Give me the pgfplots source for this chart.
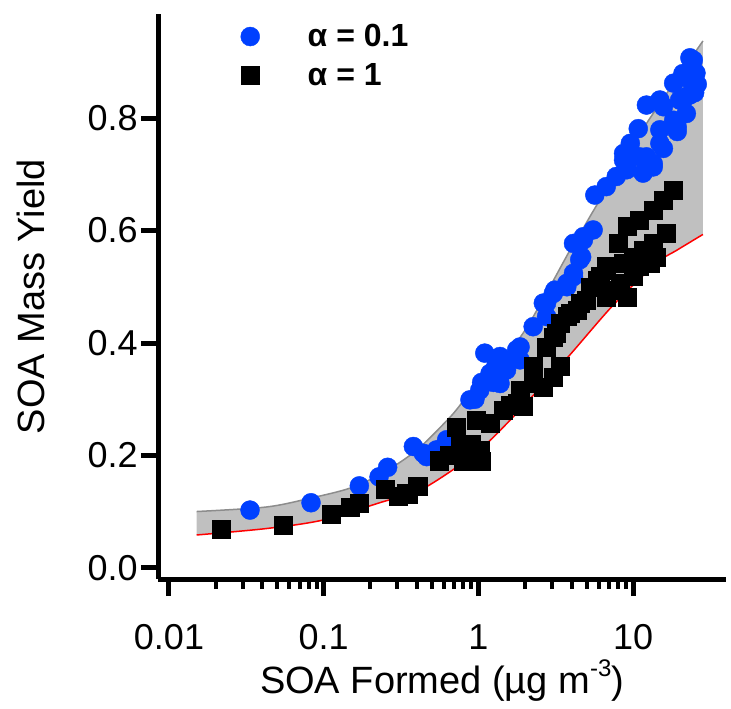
\documentclass[border=0pt]{standalone}
\usepackage{fontspec}
\setmainfont{Liberation Sans}
\usepackage{pgfplots}
\pgfplotsset{compat=1.18}
\usepgfplotslibrary{fillbetween}
\definecolor{ptblue}{HTML}{0040FF}
\definecolor{band}{HTML}{C0C0C0}
\definecolor{bandedge}{HTML}{8C8C8C}
\newcommand{\tickfont}{\fontsize{36}{40}\selectfont}
\newcommand{\labfont}{\fontsize{38}{42}\selectfont}
\newcommand{\legfont}{\bfseries\fontsize{32}{34}\selectfont}
\pgfplotsset{dotleg/.style={legend image code/.code={\draw[##1] plot coordinates {(0pt,0pt)};}}}

\begin{document}
\begin{tikzpicture}
\begin{axis}[name=ax, set layers, scale only axis,
  width=568.2pt, height=565.3pt,
  xmode=log, xmin=0.00849, xmax=40, ymin=-0.02, ymax=0.985,
  axis x line*=bottom, axis y line*=left,
  axis line style={-, line width=5pt},
  xtick={0.01,0.1,1,10}, xticklabels={0.01,0.1,1,10},
  ytick={0,0.2,0.4,0.6,0.8},
  yticklabel style={/pgf/number format/fixed, /pgf/number format/fixed zerofill, /pgf/number format/precision=1},
  /pgf/number format/assume math mode=true,
  tick align=outside, major tick length=17pt, minor tick length=10pt,
  major tick style={line width=5pt, black}, minor tick style={line width=4pt, black},
  ticklabel style={font=\tickfont},
  xticklabel style={yshift=-25pt},
  xlabel={SOA Formed (µg m\raisebox{0.45em}{\fontsize{24}{24}\selectfont -3})}, ylabel={SOA Mass Yield},
  label style={font=\labfont},
  xlabel shift=3pt, ylabel shift=36pt,
  clip=false,
  legend style={at={(0.14,0.985)}, anchor=north west, draw=none, fill=none,
    font=\legfont, row sep=15pt, nodes={inner sep=0pt},
    /tikz/every odd column/.append style={column sep=48pt}},
  legend cell align=left,
]
% model band, alpha limits
\addplot[name path=up, draw=bandedge, line width=1.5pt, smooth, forget plot] coordinates {
  (0.0151,0.1004) (0.0428,0.1085) (0.0815,0.124) (0.148,0.142) (0.2416,0.169)
  (0.401,0.210) (0.655,0.268) (0.844,0.304) (1.53,0.380) (2.06,0.428)
  (2.90,0.500) (3.91,0.565) (4.54,0.594) (5.82,0.645) (12.2,0.790) (28.3,0.937)};
\addplot[name path=lo, draw=red, line width=1.5pt, smooth, forget plot] coordinates {
  (0.0151,0.0587) (0.0428,0.0702) (0.099,0.0853) (0.2416,0.1178) (0.401,0.1356)
  (0.655,0.171) (1.07,0.215) (1.78,0.276) (3.74,0.373) (7.42,0.467)
  (14.2,0.542) (19.2,0.565) (28.3,0.593)};
\addplot[band, forget plot] fill between[of=up and lo];

\addplot[only marks, mark=*, mark size=9.5pt, color=ptblue, fill=ptblue, dotleg] coordinates {
  (0.0334,0.103) (0.0828,0.116) (0.170,0.146) (0.228,0.162) (0.259,0.179)
  (0.380,0.216) (0.440,0.204) (0.463,0.198) (0.537,0.210) (0.560,0.210)
  (0.624,0.228) (0.655,0.228) (0.882,0.299) (0.95,0.300) (1.02,0.316)
  (1.05,0.330) (1.10,0.382) (1.19,0.346) (1.25,0.330) (1.30,0.360)
  (1.38,0.376) (1.38,0.328) (1.45,0.350) (1.52,0.352) (1.60,0.370)
  (1.77,0.388) (1.86,0.370) (1.86,0.393) (2.26,0.429) (2.63,0.471)
  (2.76,0.447) (2.76,0.471) (3.05,0.488) (3.12,0.494) (3.73,0.500)
  (3.73,0.506) (4.12,0.524) (4.12,0.518) (4.52,0.548) (4.65,0.553)
  (4.12,0.577) (4.77,0.589) (4.77,0.583) (5.52,0.601) (5.66,0.663)
  (6.71,0.678) (7.79,0.696) (9.1,0.708) (8.68,0.725) (8.68,0.737)
  (9.6,0.755) (11.0,0.731) (12.2,0.731) (13.5,0.719) (13.5,0.713)
  (11.6,0.702) (9.1,0.719) (14.9,0.755) (15.7,0.746) (10.8,0.781)
  (14.9,0.779) (12.2,0.823) (14.9,0.832) (15.7,0.820) (18.3,0.796)
  (19.3,0.784) (19.3,0.776) (20.0,0.832) (22.1,0.808) (22.1,0.838)
  (23.3,0.841) (18.3,0.862) (23.2,0.868) (21.0,0.879) (24.5,0.903)
  (23.3,0.907) (25.5,0.880) (26.0,0.860) (25.0,0.845)};
\addlegendentry{α = 0.1}

\addplot[only marks, mark=square*, mark size=9pt, color=black, fill=black, dotleg] coordinates {
  (0.0219,0.0688) (0.0548,0.0764) (0.111,0.096) (0.148,0.108) (0.170,0.116)
  (0.249,0.140) (0.303,0.128) (0.344,0.133) (0.352,0.132) (0.40,0.145)
  (0.41,0.145) (0.56,0.189) (0.56,0.192) (0.65,0.200) (0.724,0.251)
  (0.76,0.216) (0.80,0.190) (0.88,0.204) (0.90,0.220) (0.97,0.263)
  (1.02,0.210) (1.05,0.190) (1.19,0.257) (1.44,0.281) (1.60,0.290)
  (1.77,0.293) (1.94,0.287) (1.86,0.316) (2.26,0.358) (2.26,0.328)
  (2.63,0.322) (3.05,0.340) (3.37,0.358) (2.76,0.393) (3.2,0.417)
  (3.05,0.411) (3.37,0.435) (3.73,0.447) (3.91,0.453) (4.33,0.459)
  (4.52,0.471) (5.0,0.476) (5.27,0.500) (5.52,0.500) (5.82,0.512)
  (6.1,0.518) (6.71,0.536) (6.71,0.530) (6.71,0.482) (7.43,0.494)
  (8.2,0.506) (8.2,0.494) (9.1,0.482) (10.0,0.518) (11.0,0.536)
  (12.9,0.542) (14.2,0.553) (8.68,0.542) (10.0,0.553) (11.6,0.565)
  (13.5,0.577) (16.4,0.595) (8.0,0.577) (9.1,0.607) (11.0,0.619)
  (13.5,0.636) (15.7,0.654) (18.3,0.672)};
\addlegendentry{α = 1}
\end{axis}
\pgfresetboundingbox
\path[use as bounding box] ([xshift=-158pt, yshift=-129.75pt]ax.south west)
  rectangle ([xshift=573pt, yshift=579.25pt]ax.south west);
\end{tikzpicture}
\end{document}
